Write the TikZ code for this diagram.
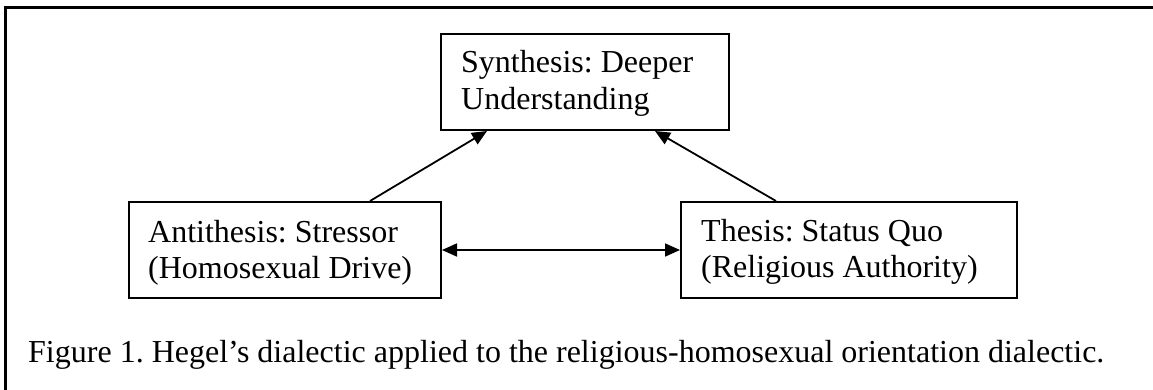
\documentclass[tikz,border=0pt]{standalone}
\usepackage{fontspec}
\setmainfont{Liberation Serif}
\usetikzlibrary{arrows.meta}
\frenchspacing
\begin{document}
\begin{tikzpicture}[x=1pt,y=-1pt,
  box/.style={draw=black, line width=2pt, fill=white, rectangle, inner sep=0pt, anchor=north west},
  txt/.style={inner sep=0pt, anchor=base west, font=\fontsize{32}{36.8}\selectfont\frenchspacing},
  conn/.style={line width=1.8pt, -{Triangle[length=15pt,width=13pt]}},
  frame/.style={line width=2.5pt}]
\useasboundingbox (0,0) rectangle (1153,390);
% outer frame (top and left edges)
\coordinate (ftr) at (1153,7.5);
\coordinate (ftl) at (5.5,7.5);
\coordinate (fbl) at (5.5,390);
\draw[frame] (ftr) -- (ftl) -- (fbl);
% boxes
\node[box, minimum width=288pt, minimum height=96pt] (syn) at (440,33) {};
\node[box, minimum width=312pt, minimum height=96pt] (anti) at (128,201) {};
\node[box, minimum width=336pt, minimum height=96pt] (thes) at (680,201) {};
% texts
\node[txt] (syntxt) at ([xshift=21pt,yshift=-40pt]syn.north west)
  {\begin{tabular}[t]{@{}l@{}}Synthesis: Deeper\\Understanding\end{tabular}};
\node[txt] (antitxt) at ([xshift=20pt,yshift=-41pt]anti.north west)
  {\begin{tabular}[t]{@{}l@{}}Antithesis: Stressor\\(Homosexual Drive)\end{tabular}};
\node[txt] (thestxt) at ([xshift=21pt,yshift=-40pt]thes.north west)
  {\begin{tabular}[t]{@{}l@{}}Thesis: Status Quo\\(Religious Authority)\end{tabular}};
% connectors
\draw[conn] ([xshift=242pt]anti.north west) -- ([xshift=47pt]syn.south west);
\draw[conn] ([xshift=96pt]thes.north west) -- ([xshift=215pt]syn.south west);
\draw[conn, {Triangle[length=15pt,width=13pt]}-{Triangle[length=15pt,width=13pt]}] (anti.east) -- (thes.west);
% caption
\node[txt] (cap) at (28,362) {Figure 1. Hegel’s dialectic applied to the religious-homosexual orientation dialectic.};
\end{tikzpicture}
\end{document}
